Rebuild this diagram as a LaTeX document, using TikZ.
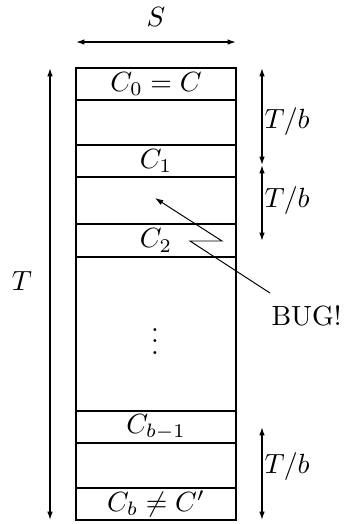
\documentclass[tikz,border=0pt]{standalone}
\usetikzlibrary{arrows.meta}
\begin{document}
\begin{tikzpicture}[x=0.36pt,y=-0.36pt,
  box/.style={draw,line width=0.5pt,minimum width=57.6pt,inner sep=0pt,anchor=center},
  dim/.style={line width=0.5pt,{Latex[length=3pt,width=2pt]}-{Latex[length=3pt,width=2pt]}},
  dimdown/.style={line width=0.5pt,-{Latex[length=3pt,width=2pt]}},
  dimup/.style={line width=0.5pt,{Latex[length=3pt,width=2pt]}-},
  bugline/.style={line width=0.35pt,-{Latex[length=3pt,width=2pt]}},
  lbl/.style={inner sep=0pt,anchor=base}]
\useasboundingbox (0,0) rectangle (345,524);
% outer column
\node[box,minimum height=162.72pt] (outer) at (156,294) {};
% checkpoint boxes
\node[box,minimum height=11.52pt] (c0) at (156,84) {$C_0=C$};
\node[box,minimum height=11.52pt] (c1) at (156,161) {$C_1$};
\node[box,minimum height=11.88pt] (c2) at (156,240.5) {$C_2$};
\node[box,minimum height=11.52pt] (cb1) at (156,427) {$C_{b-1}$};
\node[box,minimum height=11.52pt] (cb) at (156,504) {$C_b\neq C'$};
\node[lbl] (dots) at (155,354) {$\vdots$};
% S dimension
\coordinate (sL) at (76,42);
\coordinate (sR) at (236,42);
\draw[dim] (sL) -- (sR);
\node[lbl] (S) at (156,26) {$S$};
% T dimension
\coordinate (tT) at (50,68);
\coordinate (tB) at (50,520);
\draw[dim] (tT) -- (tB);
\node[lbl] (T) at (22,290) {$T$};
% T/b dimensions
\coordinate (r0) at (262,68);
\coordinate (r1) at (262,165);
\coordinate (r2) at (262,241);
\coordinate (r3) at (262,427);
\coordinate (r4) at (262,520);
\draw[dim] (r0) -- (r1);
\draw[dim] (r1) -- (r2);
\draw[dim] (r3) -- (r4);
\node[lbl,anchor=base west] (tb1) at (264,128) {$T/b$};
\node[lbl,anchor=base west] (tb2) at (264,207) {$T/b$};
\node[lbl,anchor=base west] (tb3) at (264,473) {$T/b$};
% bug
\node[lbl,anchor=base west] (bug) at (271,325) {BUG!};
\coordinate (bs) at (270,293);
\coordinate (z1) at (190,241);
\coordinate (z2) at (222,241);
\coordinate (bt) at (155,198);
\draw[bugline] (bs) -- (z1) -- (z2) -- (bt);
\end{tikzpicture}
\end{document}
